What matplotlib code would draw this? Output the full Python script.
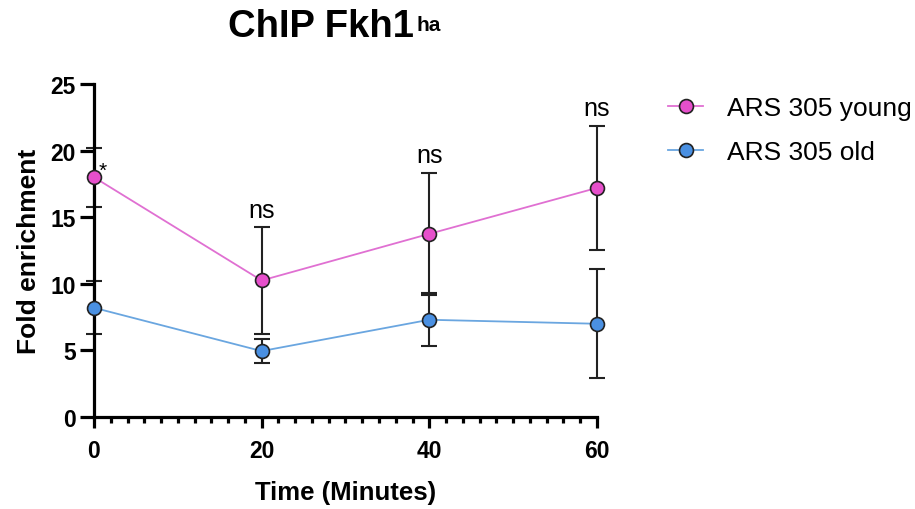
import numpy as np
import matplotlib
matplotlib.use("Agg")
import matplotlib.pyplot as plt
from matplotlib.ticker import MultipleLocator

plt.rcParams['font.family'] = ['Liberation Sans', 'DejaVu Sans']

# data
time_min = [0, 20, 40, 60]
young_mean = [18.0, 10.25, 13.75, 17.2]
young_err = [2.2, 4.0, 4.6, 4.65]
old_mean = [8.2, 4.95, 7.3, 7.0]
old_err = [2.0, 0.9, 2.0, 4.1]
signif = ["*", "ns", "ns", "ns"]

pink = "#E64FCB"
pink_line = "#E070D2"
blue = "#4A90E2"
blue_line = "#6AA6E0"

W, H = 915, 510
fig = plt.figure(figsize=(W / 100, H / 100), dpi=100)
ax = fig.add_axes([0.1027, 0.1804, 0.5497, 0.6529])

ax.errorbar(time_min, young_mean, yerr=young_err, fmt='none', ecolor='#222222',
            elinewidth=1.5, capsize=5.5, capthick=1.5, zorder=2, clip_on=False)
ax.errorbar(time_min, old_mean, yerr=old_err, fmt='none', ecolor='#222222',
            elinewidth=1.5, capsize=5.5, capthick=1.5, zorder=2, clip_on=False)
ax.plot(time_min, young_mean, '-o', color=pink_line, lw=1.3, ms=10,
        mfc=pink, mec='#222222', mew=1.2, zorder=3, clip_on=False, label="ARS 305 young")
ax.plot(time_min, old_mean, '-o', color=blue_line, lw=1.3, ms=10,
        mfc=blue, mec='#222222', mew=1.2, zorder=3, clip_on=False, label="ARS 305 old")

for t, m, e, s in zip(time_min, young_mean, young_err, signif):
    if s == "*":
        ax.annotate(s, (t, m), xytext=(6.5, 5), textcoords='offset points',
                    ha='center', va='center', fontsize=15)
    else:
        ax.annotate(s, (t, m + e), xytext=(0, 4), textcoords='offset points',
                    ha='center', va='bottom', fontsize=18)

ax.set_xlim(0, 60)
ax.set_ylim(0, 25)
ax.xaxis.set_major_locator(MultipleLocator(20))
ax.xaxis.set_minor_locator(MultipleLocator(2))
ax.yaxis.set_major_locator(MultipleLocator(5))
for side in ['top', 'right']:
    ax.spines[side].set_visible(False)
for side in ['left', 'bottom']:
    ax.spines[side].set_linewidth(2.3)
ax.tick_params(axis='y', which='major', width=2.3, length=10, labelsize=16.5, pad=3)
ax.tick_params(axis='x', which='major', width=2.3, length=8, labelsize=16.5, pad=8)
ax.tick_params(axis='x', which='minor', width=2.3, length=4.5)
for lbl in ax.get_xticklabels() + ax.get_yticklabels():
    lbl.set_fontweight('bold')

ax.set_xlabel("Time (Minutes)", fontsize=18.5, fontweight='bold', labelpad=13)
ax.set_ylabel("Fold enrichment", fontsize=19, fontweight='bold', labelpad=7)

title = fig.text(228 / W, 1 - 37 / H, "ChIP Fkh1", fontsize=27.5, fontweight='bold',
                 ha='left', va='baseline')
fig.canvas.draw()
bb = title.get_window_extent()
fig.text((bb.x1 + 3) / W, 1 - 31 / H, "ha", fontsize=15, fontweight='bold',
         ha='left', va='baseline')

ax.legend(loc='upper left', bbox_to_anchor=(1.095, 1.035), frameon=False,
          fontsize=19, handlelength=1.3, handletextpad=0.9, labelspacing=0.75)

fig.savefig("out.png", dpi=100)
